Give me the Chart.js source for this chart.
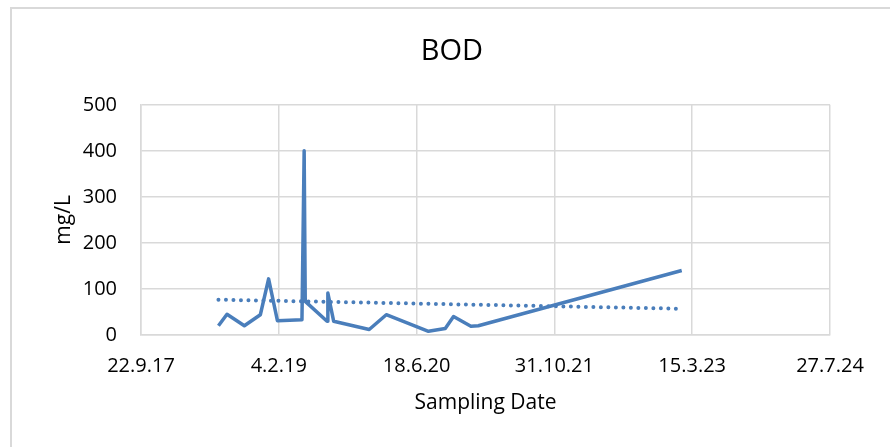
<!DOCTYPE html>
<html>
<head>
<meta charset="utf-8">
<script src="https://cdn.jsdelivr.net/npm/chart.js@4.4.1/dist/chart.umd.min.js"></script>
<style>
  html, body { margin: 0; padding: 0; background: #fff; }
  #wrap { position: relative; width: 890px; height: 447px; }
</style>
</head>
<body>
<div id="wrap"><canvas id="bodChart"></canvas></div>
<script>
// sampling dates and BOD values (mg/L)
const sampleDates = [
    '2018-06-30', '2018-07-31', '2018-10-02', '2018-11-29', '2018-12-29',
    '2019-01-30', '2019-04-29', '2019-05-07', '2019-05-11', '2019-07-29',
    '2019-08-01', '2019-08-22', '2019-12-29', '2020-02-29', '2020-07-31',
    '2020-09-30', '2020-10-30', '2021-01-01', '2021-01-28', '2023-02-05'
];
const bodValues = [20, 45, 20, 44, 122, 31, 33, 400, 73, 30, 91, 30, 12, 44, 8, 14, 40, 19, 20, 140];

// linear trend line, start and end
const trendDates = ['2018-06-30', '2023-02-05'];
const trendValues = [76.7, 57];

// axis range (Excel date serials) and ticks
const xMin = 43000;   // 22.9.17
const xMax = 45500;   // 27.7.24
const xStep = 500;
const yTicks = [0, 100, 200, 300, 400, 500];

const toSerial = s => Date.parse(s) / 86400000 + 25569;
const serialLabel = v => {
    const d = new Date((v - 25569) * 86400000);
    return d.getUTCDate() + '.' + (d.getUTCMonth() + 1) + '.' + String(d.getUTCFullYear()).slice(2);
};

const blue = '#4A7EBB';
const gridGrey = '#d9d9d9';
const fontFamily = "'Open Sans', 'DejaVu Sans', sans-serif";

const frame = {
    id: 'frame',
    beforeDraw(chart) {
        const ctx = chart.ctx;
        ctx.save();
        ctx.strokeStyle = gridGrey;
        ctx.lineWidth = 2;
        ctx.strokeRect(11, 8, 900, 460);
        ctx.restore();
    }
};

new Chart(document.getElementById('bodChart').getContext('2d'), {
    type: 'line',
    data: {
        datasets: [{
            label: 'BOD',
            data: sampleDates.map((d, i) => ({ x: toSerial(d), y: bodValues[i] })),
            borderColor: blue,
            borderWidth: 3.5,
            borderJoinStyle: 'round',
            pointRadius: 0,
            tension: 0
        }, {
            label: 'Linear (BOD)',
            data: trendDates.map((d, i) => ({ x: toSerial(d), y: trendValues[i] })),
            borderColor: blue,
            borderWidth: 4,
            borderCapStyle: 'round',
            borderDash: [0, 7.5],
            pointRadius: 0
        }]
    },
    options: {
        responsive: true,
        maintainAspectRatio: false,
        animation: false,
        layout: { padding: { left: 14, right: 0, top: 0, bottom: 0 } },
        plugins: {
            legend: { display: false },
            tooltip: { enabled: false },
            title: {
                display: true,
                text: 'BOD',
                color: '#000',
                font: { family: fontFamily, size: 29, weight: 'normal' },
                padding: { top: 34, bottom: 36 }
            }
        },
        scales: {
            x: {
                type: 'linear',
                min: xMin,
                max: xMax,
                afterBuildTicks: s => {
                    s.ticks = [];
                    for (let v = xMin; v <= xMax; v += xStep) s.ticks.push({ value: v });
                },
                afterFit: s => { s.height = 112; },
                grid: { color: gridGrey, lineWidth: 1.5, drawTicks: false },
                border: { color: gridGrey, width: 1.5 },
                ticks: {
                    padding: 19,
                    color: '#000',
                    font: { family: fontFamily, size: 20 },
                    maxRotation: 0,
                    callback: v => serialLabel(v)
                },
                title: {
                    display: true,
                    text: 'Sampling Date',
                    color: '#000',
                    font: { family: fontFamily, size: 21 },
                    padding: { top: 0, bottom: 31 }
                }
            },
            y: {
                min: 0,
                max: 500,
                afterBuildTicks: s => { s.ticks = yTicks.map(v => ({ value: v })); },
                afterFit: s => { s.width = 127; },
                grid: { color: gridGrey, lineWidth: 1.5, drawTicks: false },
                border: { color: gridGrey, width: 1.5 },
                ticks: {
                    padding: 24,
                    color: '#000',
                    font: { family: fontFamily, size: 20 }
                },
                title: {
                    display: true,
                    text: 'mg/L',
                    color: '#000',
                    font: { family: fontFamily, size: 21 },
                    padding: { top: 37, bottom: 0 }
                }
            },
            // empty axis on the right, only keeps the plot area clear of the edge
            yRight: {
                position: 'right',
                min: 0,
                max: 500,
                afterFit: s => { s.width = 60; },
                grid: { display: false },
                border: { display: false },
                ticks: { display: false }
            }
        }
    },
    plugins: [frame]
});
</script>
</body>
</html>
